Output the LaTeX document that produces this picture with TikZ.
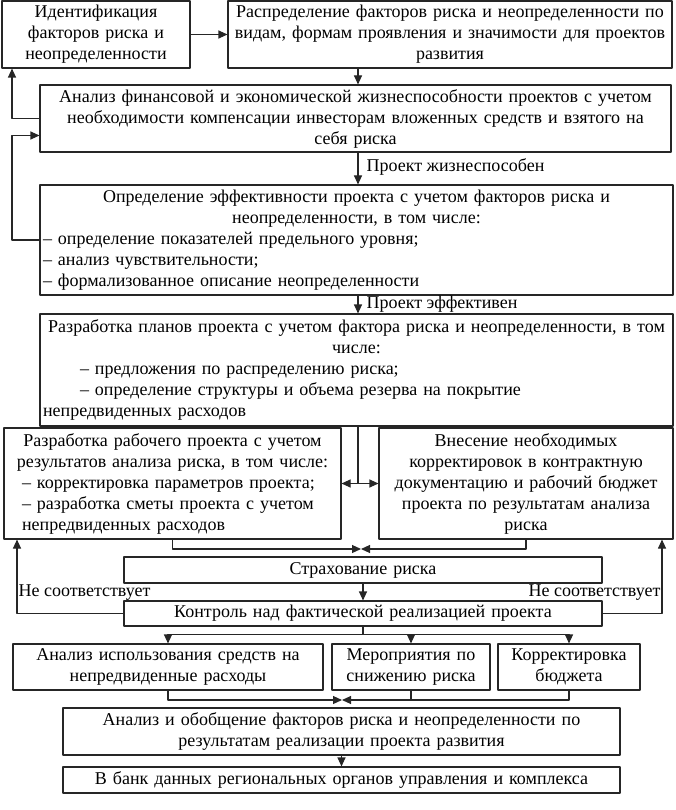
\documentclass[tikz,border=0pt]{standalone}
\usepackage{fontspec}
\setmainfont{Liberation Serif}
\usetikzlibrary{arrows.meta,calc}

\begin{document}
\begin{tikzpicture}[x=1pt, y=-1pt, >={Triangle[length=9pt,width=8pt]}, line join=round,
  box/.style={draw=black!85, line width=1.1pt, inner xsep=3pt, inner ysep=0pt,
    font=\fontsize{18}{21}\selectfont, align=center},
  lbl/.style={inner sep=1pt, font=\fontsize{18}{21}\selectfont},
  arr/.style={->, line width=1.1pt, draw=black!85},
  ln/.style={line width=1.1pt, draw=black!85}]
  \useasboundingbox (0,0) rectangle (675,810);
  \coordinate (X1) at (358,0);
  \coordinate (X2) at (12,0);
  \coordinate (X3) at (17,0);
  \coordinate (X4) at (662,0);
  \node[box, text width=182pt, minimum height=67pt] (A) at (96,34.5) {Идентификация\\факторов риска и\\неопределенности};
  \node[box, text width=438pt, minimum height=67pt] (B) at (450,34.5) {Распределение факторов риска и неопределенности по\\видам, формам проявления и значимости для проектов\\развития};
  \node[box, text width=625pt, minimum height=67pt] (C) at (355.5,118.5) {Анализ финансовой и экономической жизнеспособности проектов с учетом\\необходимости компенсации инвесторам вложенных средств и взятого на\\себя риска};
  \node[box, align=left, text width=627pt, minimum height=110pt] (D) at (356.5,240) {{\centering Определение эффективности проекта с учетом факторов риска и\\неопределенности, в том числе:\par}– определение показателей предельного уровня;\\– анализ чувствительности;\\– формализованное описание неопределенности};
  \node[box, align=left, text width=627pt, minimum height=112pt] (E) at (356.5,370) {{\centering Разработка планов проекта с учетом фактора риска и неопределенности, в том\\числе:\par}\hspace*{37pt}– предложения по распределению риска;\\\hspace*{37pt}– определение структуры и объема резерва на покрытие\\непредвиденных расходов};
  \node[box, align=left, text width=331pt, minimum height=111pt] (F) at (172.5,483.5) {{\centering Разработка рабочего проекта с учетом\\результатов анализа риска, в том числе:\par}\hspace*{15pt}– корректировка параметров проекта;\\\hspace*{15pt}– разработка сметы проекта с учетом\\\hspace*{15pt}непредвиденных расходов};
  \node[box, text width=288pt, minimum height=111pt] (G) at (526,483.5) {Внесение необходимых\\корректировок в контрактную\\документацию и рабочий бюджет\\проекта по результатам анализа\\риска};
  \node[box, text width=472pt, minimum height=26pt] (H) at (363,570) {Страхование риска};
  \node[box, text width=472pt, minimum height=25pt] (I) at (363,613.5) {Контроль над фактической реализацией проекта};
  \node[box, text width=304pt, minimum height=46pt] (J) at (168,667) {Анализ использования средств на\\непредвиденные расходы};
  \node[box, text width=152pt, minimum height=46pt] (K) at (411,667) {Мероприятия по\\снижению риска};
  \node[box, text width=136pt, minimum height=46pt] (L) at (569,667) {Корректировка\\бюджета};
  \node[box, text width=551pt, minimum height=47pt] (M) at (341.5,731.5) {Анализ и обобщение факторов риска и неопределенности по\\результатам реализации проекта развития};
  \node[box, text width=551pt, minimum height=26pt] (N) at (341.5,780) {В банк данных региональных органов управления и комплекса};
  \coordinate (Cin) at ([yshift=-17pt]C.west);
  \coordinate (S1) at (X1 |- F.east);
  \coordinate (S2) at (361,549);
  \coordinate (S3) at ($(I.south)+(0,8)$);
  \coordinate (S4) at (342,700);
  \draw[arr] (A) -- (B);
  \draw[arr] (B.south -| X1) -- (C.north -| X1);
  \draw[arr] (C.south -| X1) -- node[lbl, right=7pt, pos=.45] {Проект жизнеспособен} (D.north -| X1);
  \draw[arr] (D.south -| X1) -- node[lbl, right=7pt, pos=.5] {Проект эффективен} (E.north -| X1);
  \draw[arr] (C.west) -| (X2 |- A.south);
  \draw[arr] (D.west) -| (X2 |- Cin) -- (Cin);
  \draw[ln] (E.south -| S1) -- (S1);
  \draw[arr] (S1) -- (F.east);
  \draw[arr] (S1) -- (G.west);
  \draw[arr] (F.south) |- (S2);
  \draw[arr] (G.south) |- (S2);
  \draw[arr] (H) -- (I);
  \draw[arr] (I.west) -| node[lbl, pos=.5, anchor=south west, yshift=12pt] {Не соответствует} (X3 |- F.south);
  \draw[arr] (I.east) -| node[lbl, pos=.5, anchor=south east, yshift=12pt] {Не соответствует} (X4 |- G.south);
  \draw[ln] (I.south) -- (S3);
  \draw[arr] (S3) -| (J.north);
  \draw[arr] (S3) -| (K.north);
  \draw[arr] (S3) -| (L.north);
  \draw[arr] (J.south) |- (S4);
  \draw[arr] (K.south) |- (S4);
  \draw[ln] (L.south) |- (K.south |- S4);
  \draw[arr] (M) -- (N);
\end{tikzpicture}
\end{document}
